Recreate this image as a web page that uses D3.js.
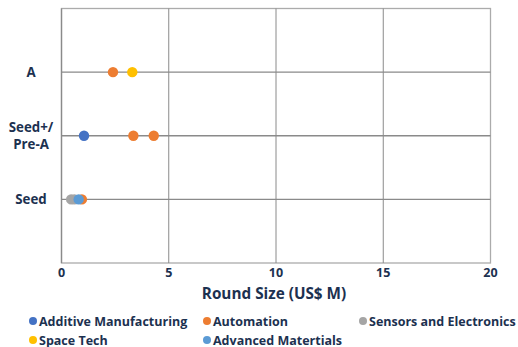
<!DOCTYPE html>
<html><head><meta charset="utf-8">
<script src="https://cdn.jsdelivr.net/npm/d3@7"></script>
<style>body{margin:0;background:#fff}svg{display:block}text{font-family:"Open Sans",Lato,sans-serif;font-weight:700;fill:#1c3150}</style>
</head><body><svg id="c" width="518" height="347"></svg>
<script>
const categories = ["Seed", "Seed+/ Pre-A", "A"];
const seriesNames = ["Additive Manufacturing", "Automation", "Sensors and Electronics", "Space Tech", "Advanced Matertials"];
const seriesColors = ["#4472C4", "#ED7D31", "#A5A5A5", "#FFC000", "#5B9BD5"];
const additiveManufacturing = [{cat:"Seed+/ Pre-A", v:1.05}];
const automation = [{cat:"A", v:2.4}, {cat:"Seed+/ Pre-A", v:3.35}, {cat:"Seed+/ Pre-A", v:4.3}, {cat:"Seed", v:0.95}];
const sensorsElectronics = [{cat:"Seed", v:0.45}, {cat:"Seed", v:0.6}];
const spaceTech = [{cat:"A", v:3.3}];
const advancedMaterials = [{cat:"Seed", v:0.8}];
const xTicks = [0, 5, 10, 15, 20];
const seriesData = [additiveManufacturing, automation, sensorsElectronics, spaceTech, advancedMaterials];

const svg = d3.select("#c");
const L = 61.5, R = 490.5, T = 8.5, B = 263;
const x = d3.scaleLinear().domain([0, 20]).range([L, R]);
const y = d3.scaleLinear().domain([0, 4]).range([B, T]);
const catY = c => y(categories.indexOf(c) + 1);

svg.append("rect").attr("x", L).attr("y", T).attr("width", R - L).attr("height", B - T)
  .attr("fill", "none").attr("stroke", "#ababab").attr("stroke-width", 1.3);
svg.append("g").selectAll("line").data(xTicks.slice(1, -1)).join("line")
  .attr("x1", d => x(d)).attr("x2", d => x(d)).attr("y1", T).attr("y2", B)
  .attr("stroke", "#8a8a8a").attr("stroke-width", 1);
svg.append("g").selectAll("line").data(categories).join("line")
  .attr("x1", L).attr("x2", R).attr("y1", d => catY(d)).attr("y2", d => catY(d))
  .attr("stroke", "#8a8a8a").attr("stroke-width", 1.3);
svg.append("line").attr("x1", L).attr("x2", L).attr("y1", T).attr("y2", B).attr("stroke", "#8a8a8a").attr("stroke-width", 1.3);

svg.append("g").selectAll("text").data(xTicks).join("text")
  .attr("x", d => x(d)).attr("y", 277).attr("text-anchor", "middle").attr("font-size", 12.5).text(d => d);
svg.append("text").attr("x", 274).attr("y", 299).attr("text-anchor", "middle").attr("font-size", 15.3).text("Round Size (US$ M)");

categories.forEach(c => {
  const lines = c.split(" ");
  const t = svg.append("text").attr("text-anchor", "middle").attr("font-size", 13.3).attr("x", 31)
    .attr("y", catY(c) - (lines.length - 1) * 8.5 + 4.5);
  lines.forEach((ln, i) => t.append("tspan").attr("x", 31).attr("dy", i ? 17 : 0).text(ln));
});

seriesData.forEach((arr, i) => {
  svg.append("g").selectAll("circle").data(arr).join("circle")
    .attr("cx", d => x(d.v)).attr("cy", d => catY(d.cat)).attr("r", 5.2).attr("fill", seriesColors[i]);
});

const legPos = [[33, 321], [207, 321], [363, 321], [33, 340], [207, 340]];
seriesNames.forEach((n, i) => {
  const [lx, ly] = legPos[i];
  svg.append("circle").attr("cx", lx).attr("cy", ly).attr("r", 4).attr("fill", seriesColors[i]);
  svg.append("text").attr("x", lx + 6).attr("y", ly + 4.5).attr("font-size", 12.5).text(n);
});
</script></body></html>
